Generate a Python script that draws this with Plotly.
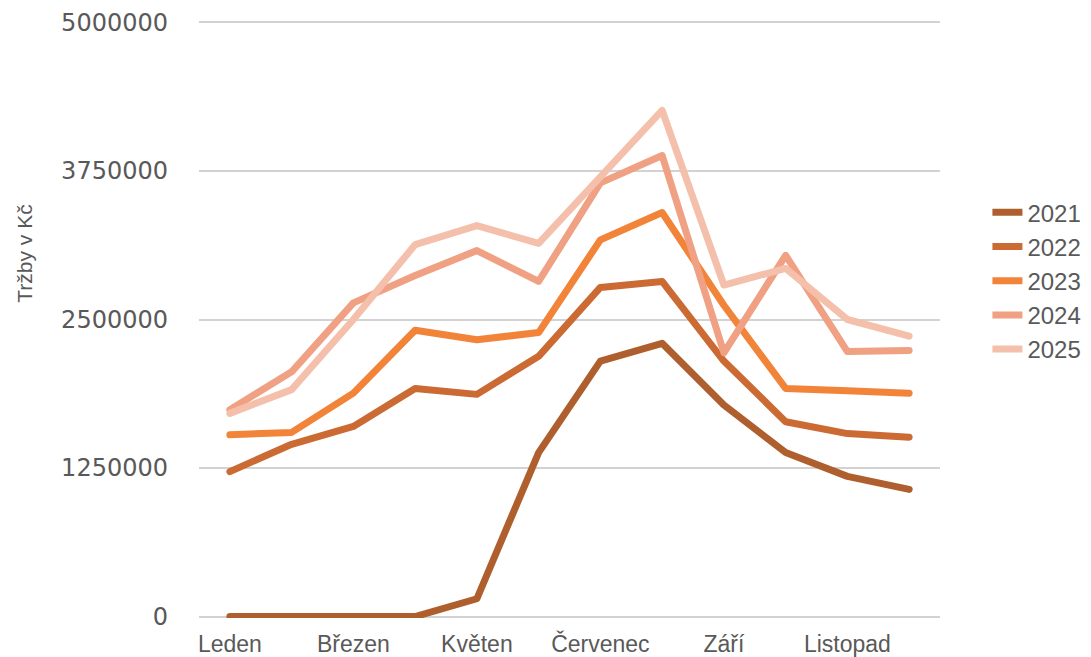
import plotly.graph_objects as go

months = ["Leden", "Únor", "Březen", "Duben", "Květen", "Červen",
          "Červenec", "Srpen", "Září", "Říjen", "Listopad", "Prosinec"]
shown_ticks = ["Leden", "Březen", "Květen", "Červenec", "Září", "Listopad"]
y_ticks = [0, 1250000, 2500000, 3750000, 5000000]
y_title = "Tržby v Kč"

sales_2021 = [0, 0, 0, 0, 150000, 1380000, 2150000, 2300000, 1780000, 1380000, 1180000, 1070000]
sales_2022 = [1220000, 1450000, 1600000, 1920000, 1870000, 2190000, 2770000, 2820000, 2150000, 1640000, 1540000, 1510000]
sales_2023 = [1530000, 1550000, 1880000, 2410000, 2330000, 2390000, 3170000, 3400000, 2620000, 1920000, 1900000, 1880000]
sales_2024 = [1740000, 2060000, 2640000, 2870000, 3080000, 2820000, 3650000, 3880000, 2220000, 3040000, 2230000, 2240000]
sales_2025 = [1710000, 1910000, 2500000, 3130000, 3290000, 3140000, 3700000, 4260000, 2790000, 2930000, 2500000, 2360000]

series = [
    ("2021", sales_2021, "#AE5F2D"),
    ("2022", sales_2022, "#CB6B33"),
    ("2023", sales_2023, "#F28439"),
    ("2024", sales_2024, "#F0A083"),
    ("2025", sales_2025, "#F5C0AB"),
]

fig = go.Figure()
for name, vals, color in series:
    fig.add_trace(go.Scatter(
        x=months, y=vals, name=name, mode="lines",
        line=dict(color=color, width=7),
    ))

text_color = "#595959"
fig.update_layout(
    width=1091, height=657,
    margin=dict(l=199, r=151, t=21, b=39, autoexpand=False),
    paper_bgcolor="white", plot_bgcolor="white",
    font=dict(family="Liberation Sans, Arial, sans-serif", color=text_color, size=22),
    showlegend=True,
    legend=dict(
        x=1.064, y=0.565, xanchor="left", yanchor="middle",
        font=dict(size=24, color=text_color),
        bgcolor="rgba(0,0,0,0)",
    ),
    xaxis=dict(
        type="category",
        categoryorder="array", categoryarray=months,
        tickmode="array", tickvals=shown_ticks, ticktext=shown_ticks,
        showgrid=False, zeroline=False, showline=False,
        tickfont=dict(size=23, color=text_color),
        ticklabelstandoff=10,
        range=[-0.5, 11.5],
        automargin=False,
    ),
    yaxis=dict(
        range=[-12000, 5012000],
        tickmode="array", tickvals=y_ticks,
        ticktext=[str(v) for v in y_ticks],
        showgrid=True, gridcolor="#D2D2D2", gridwidth=2,
        zeroline=False, showline=False,
        tickfont=dict(family="DejaVu Sans, sans-serif", size=24, color=text_color),
        ticklabelstandoff=30,
        automargin=False,
    ),
    annotations=[dict(
        text=y_title, textangle=-90,
        xref="paper", yref="paper",
        x=-0.235, y=0.61, xanchor="center", yanchor="middle",
        showarrow=False,
        font=dict(size=21, color=text_color),
    )],
)

post = (
    "document.body.style.margin='0';"
    "document.querySelectorAll('.scatterlayer path.js-line').forEach(function(p){"
    "p.style.strokeLinecap='round';p.style.strokeLinejoin='round';});"
)
fig.write_html("out.html", config={"displayModeBar": False}, post_script=post)
